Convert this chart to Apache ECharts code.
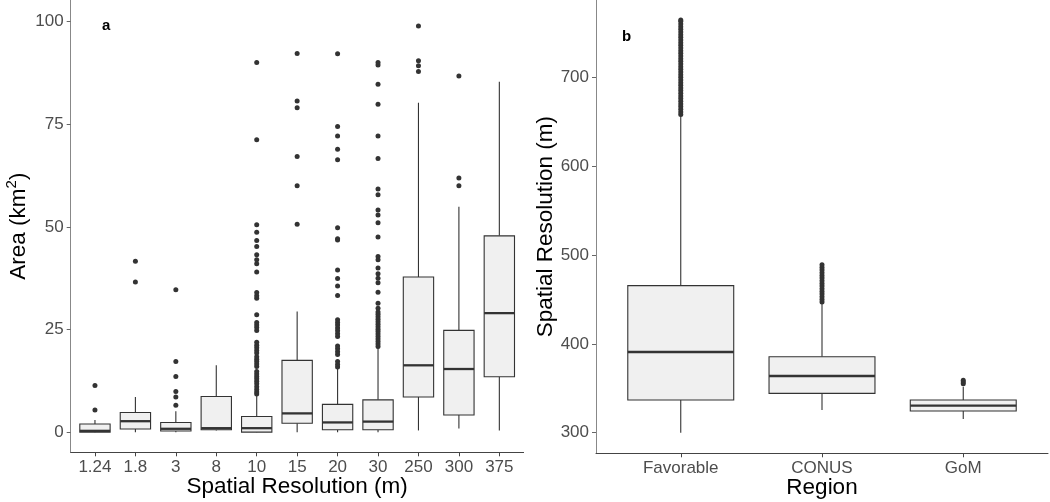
<!DOCTYPE html>
<html><head><meta charset="utf-8">
<script src="https://cdn.jsdelivr.net/npm/echarts@6/dist/echarts.min.js"></script>
<style>html,body{margin:0;padding:0;background:#fff}#c{width:1050px;height:502px}</style>
</head><body><div id="c"></div>
<script>
// ---------- Panel a data ----------
const resLabels = ['1.24','1.8','3','8','10','15','20','30','250','300','375'];
const aMin = [0, 0, 0, 0.45, 0, 0, 0, 0, 0.45, 0.9, 0.45];
const aQ1  = [0.05, 0.8, 0.3, 0.6, 0.05, 2.2, 0.6, 0.6, 8.6, 4.2, 13.5];
const aMed = [0.35, 2.7, 0.85, 1.0, 1.0, 4.6, 2.4, 2.6, 16.3, 15.4, 29.0];
const aQ3  = [2.0, 4.8, 2.4, 8.7, 3.85, 17.5, 6.8, 7.9, 37.8, 24.8, 47.8];
const aMax = [3.0, 8.6, 5.1, 16.3, 9.0, 29.4, 16.0, 20.5, 80.2, 54.9, 85.3];
const aOutliers = [
  [5.4, 11.4],
  [36.6, 41.6],
  [6.6, 8.6, 9.9, 13.6, 17.2, 34.7],
  [],
  [9.3, 9.8, 10.4, 11.1, 11.8, 12.4, 13.0, 13.6, 14.2, 14.8, 16.0, 16.6, 17.2, 17.8, 18.4, 19.3, 19.9, 20.6, 21.2, 21.9, 24.8, 25.5, 26.1, 26.7, 28.6, 32.6, 33.2, 34.0, 39.0, 41.0, 42.0, 43.2, 45.2, 46.7, 48.7, 50.5, 71.2, 90.0],
  [50.6, 60.0, 67.1, 79.0, 80.6, 92.2],
  [15.9, 16.5, 17.2, 18.9, 19.6, 20.3, 21.0, 23.3, 24.0, 24.7, 25.4, 26.1, 26.7, 27.4, 33.3, 35.6, 37.4, 39.5, 46.8, 47.1, 49.8, 66.3, 68.9, 72.1, 74.4, 92.1],
  [20.9, 21.5, 22.1, 22.7, 23.3, 23.9, 24.5, 25.1, 25.7, 26.3, 26.9, 27.5, 28.1, 28.7, 29.3, 30.2, 31.4, 34.1, 36.4, 37.5, 38.6, 40.0, 42.0, 42.8, 47.5, 51.0, 52.9, 54.1, 57.8, 59.2, 66.6, 72.1, 79.8, 84.7, 89.4, 90.0],
  [87.8, 89.2, 90.4, 98.9],
  [60.0, 61.9, 86.7],
  []
];
const aYTicks = [0, 25, 50, 75, 100];

// ---------- Panel b data ----------
const regions = ['Favorable', 'CONUS', 'GoM'];
const bMin = [300, 325.5, 315.4];
const bQ1  = [336.8, 344.3, 324.4];
const bMed = [390.8, 363.8, 330.4];
const bQ3  = [465.5, 385.5, 336.8];
const bMax = [656.4, 444.9, 351.8];
const bOutliers = [
  [658, 661, 664, 667, 670, 673, 676, 679, 682, 685, 688, 691, 694, 697, 700, 703, 706, 709, 712, 715, 718, 721, 724, 727, 730, 733, 736, 739, 742, 745, 748, 751, 754, 757, 760, 763, 764.5],
  [447, 450, 453, 456, 459, 462, 465, 468, 471, 474, 477, 480, 483, 486, 489],
  [355, 357, 359]
];
const bYTicks = [300, 400, 500, 600, 700];

// ---------- helpers ----------
function boxData(mn, q1, md, q3, mx) {
  return mn.map((v, i) => [i + 1, v, q1[i], md[i], q3[i], mx[i]]);
}
function outlierData(list) {
  const out = [];
  list.forEach((arr, i) => arr.forEach(v => out.push([i + 1, v])));
  return out;
}
const STROKE = '#333333';
function renderBox(params, api) {
  const x = api.value(0);
  const half = api.size([0.75, 0])[0] / 2;
  const pMin = api.coord([x, api.value(1)]);
  const pQ1 = api.coord([x, api.value(2)]);
  const pMed = api.coord([x, api.value(3)]);
  const pQ3 = api.coord([x, api.value(4)]);
  const pMax = api.coord([x, api.value(5)]);
  return {
    type: 'group',
    children: [
      {type: 'line', shape: {x1: pMin[0], y1: pMin[1], x2: pQ1[0], y2: pQ1[1]}, style: {stroke: STROKE, lineWidth: 1.1}},
      {type: 'line', shape: {x1: pQ3[0], y1: pQ3[1], x2: pMax[0], y2: pMax[1]}, style: {stroke: STROKE, lineWidth: 1.1}},
      {type: 'rect', shape: {x: pQ3[0] - half, y: pQ3[1], width: 2 * half, height: pQ1[1] - pQ3[1]}, style: {fill: '#F0F0F0', stroke: STROKE, lineWidth: 1.1}},
      {type: 'line', shape: {x1: pMed[0] - half, y1: pMed[1], x2: pMed[0] + half, y2: pMed[1]}, style: {stroke: STROKE, lineWidth: 2.3}}
    ]
  };
}

const FONT = 'Liberation Sans, Arial, sans-serif';
const tickLabelStyle = {color: '#4D4D4D', fontSize: 17, fontFamily: FONT};
const nameStyle = {color: '#000', fontSize: 22.5, fontFamily: FONT};

function xAxisCfg(gridIndex, labels, name) {
  const pos = labels.map((_, i) => i + 1);
  return {
    gridIndex, type: 'value', min: 0.4, max: labels.length + 0.6,
    name, nameLocation: 'middle', nameGap: 23, nameMoveOverlap: false, nameTextStyle: nameStyle,
    axisLine: {onZero: false, lineStyle: {color: '#444', width: 1}},
    axisTick: {customValues: pos, length: 4, lineStyle: {color: '#444'}},
    axisLabel: Object.assign({customValues: pos, margin: 7, formatter: v => labels[Math.round(v) - 1]}, tickLabelStyle),
    splitLine: {show: false}
  };
}
function yAxisCfg(gridIndex, ticks, min, max, name, gap, rich) {
  const ns = Object.assign({}, nameStyle);
  if (rich) ns.rich = rich;
  return {
    gridIndex, type: 'value', min, max,
    name, nameLocation: 'middle', nameGap: gap, nameMoveOverlap: false, nameTextStyle: ns,
    axisLine: {show: true, onZero: false, lineStyle: {color: '#888', width: 1}},
    axisTick: {show: true, customValues: ticks, length: 4, lineStyle: {color: '#666'}},
    axisLabel: Object.assign({customValues: ticks, margin: 7}, tickLabelStyle),
    splitLine: {show: false}
  };
}
const supRich = {
  n: {fontSize: 22.5, fontFamily: FONT, color: '#000', lineHeight: 26, verticalAlign: 'bottom'},
  s: {fontSize: 15, fontFamily: FONT, color: '#000', lineHeight: 26, verticalAlign: 'top'}
};

const chart = echarts.init(document.getElementById('c'), null, {renderer: 'canvas'});
chart.setOption({
  backgroundColor: '#fff',
  animation: false,
  title: [
    {text: 'a', left: 97, top: 13, textStyle: {fontSize: 15, fontWeight: 'bold', color: '#000', fontFamily: FONT}},
    {text: 'b', left: 617, top: 24, textStyle: {fontSize: 15, fontWeight: 'bold', color: '#000', fontFamily: FONT}}
  ],
  grid: [
    {left: 70.7, right: 1050 - 523.6, top: 0, bottom: 502 - 452.3, outerBoundsMode: 'none', containLabel: false},
    {left: 596, right: 2, top: 0, bottom: 502 - 453.3, outerBoundsMode: 'none', containLabel: false}
  ],
  xAxis: [
    xAxisCfg(0, resLabels, 'Spatial Resolution (m)'),
    xAxisCfg(1, regions, 'Region')
  ],
  yAxis: [
    yAxisCfg(0, aYTicks, -4.87, 105.2, '{n|Area (km}{s|2}{n|)}', 40, supRich),
    yAxisCfg(1, bYTicks, 276.8, 787, 'Spatial Resolution (m)', 39)
  ],
  series: [
    {type: 'custom', xAxisIndex: 0, yAxisIndex: 0, renderItem: renderBox, encode: {x: 0, y: [1, 2, 3, 4, 5]},
     data: boxData(aMin, aQ1, aMed, aQ3, aMax), clip: false},
    {type: 'scatter', xAxisIndex: 0, yAxisIndex: 0, symbolSize: 5, itemStyle: {color: STROKE, opacity: 1},
     data: outlierData(aOutliers)},
    {type: 'custom', xAxisIndex: 1, yAxisIndex: 1, renderItem: renderBox, encode: {x: 0, y: [1, 2, 3, 4, 5]},
     data: boxData(bMin, bQ1, bMed, bQ3, bMax), clip: false},
    {type: 'scatter', xAxisIndex: 1, yAxisIndex: 1, symbolSize: 5, itemStyle: {color: STROKE, opacity: 1},
     data: outlierData(bOutliers)}
  ]
});
</script>
</body></html>
